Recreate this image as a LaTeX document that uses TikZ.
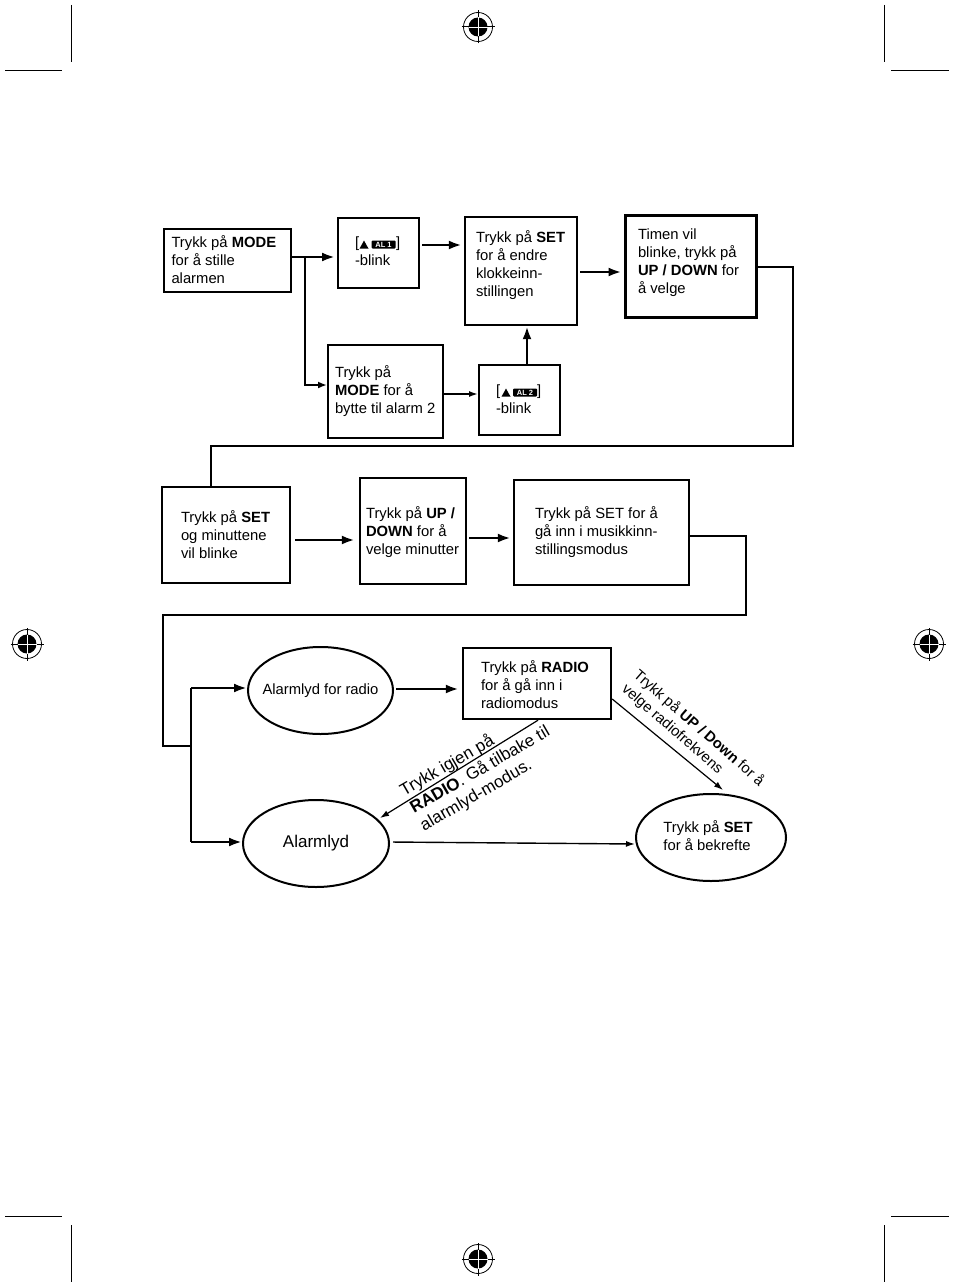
\documentclass[tikz,border=0pt]{standalone}
\usepackage{fontspec}
\setmainfont{Liberation Sans}
\usetikzlibrary{arrows.meta,shapes.geometric}
\tikzset{
  x=1pt,y=-1pt,
  every node/.style={font=\fontsize{14.8}{18}\selectfont},
  boxn/.style={draw,rectangle,line width=#1,align=left,inner ysep=0pt,anchor=center},
  boxn/.default=2pt,
  oval/.style={draw,ellipse,line width=2pt,align=left,inner sep=0pt},
  flow/.style={line width=2.8pt,shorten >=2pt,-{Latex[length=13pt,width=9pt]}},
  flowsmall/.style={line width=2pt,-{Latex[length=9pt,width=7pt]}},
  flowthin/.style={line width=1.2pt,-{Latex[length=9pt,width=6pt]}},
  route/.style={line width=2pt},
  crop/.style={line width=1pt},
  rotlabel/.style={align=left,inner sep=0pt},
  alicon/.style={fill=black,text=white,rectangle,rounded corners=1pt,inner sep=0pt,minimum width=24pt,minimum height=8pt,font=\fontsize{7.5}{7.5}\bfseries\selectfont},
}
\newcommand{\lines}[1]{\begin{tabular}[c]{@{}l@{}}#1\end{tabular}}
% name, x1, y1, x2, y2, text inset, line width, lift, text
\newcommand{\flowbox}[9]{%
  \pgfmathsetmacro{\cx}{(#2+#4)/2}\pgfmathsetmacro{\cy}{(#3+#5)/2}%
  \pgfmathsetmacro{\bw}{#4-#2}\pgfmathsetmacro{\bh}{#5-#3}%
  \pgfmathsetmacro{\tw}{\bw-2*#6}%
  \node[boxn=#7,minimum width=\bw pt,minimum height=\bh pt,inner xsep=#6pt] (#1) at (\cx,\cy) {\raisebox{#8pt}[0pt][0pt]{\makebox[\tw pt][l]{\lines{#9}}}};}
\newcommand{\regmark}[1]{%
  \fill (#1) circle (9.5pt);
  \draw[line width=0.8pt] (#1) circle (14.5pt);
  \draw[line width=1pt] ([xshift=-16.5pt]#1) -- ([xshift=16.5pt]#1);
  \draw[line width=1pt] ([yshift=-16.5pt]#1) -- ([yshift=16.5pt]#1);
  \draw[white,line width=0.9pt] ([xshift=-9.5pt]#1) -- ([xshift=9.5pt]#1);
  \draw[white,line width=0.9pt] ([yshift=-9.5pt]#1) -- ([yshift=9.5pt]#1);}
\newcommand{\bell}[2]{\fill (#1,#2) -- ++(1.5,-2.5) -- ++(3,-5.5) -- ++(3,5.5) -- ++(1.5,2.5) -- cycle;}
\begin{document}
\begin{tikzpicture}
\useasboundingbox (0,0) rectangle (954,1287);
\fill[white] (0,0) rectangle (954,1287);

% crop marks
\draw[crop] (71,5) -- (71,62);
\draw[crop] (5,71) -- (62,71);
\draw[crop] (884,5) -- (884,62);
\draw[crop] (891,71) -- (949,71);
\draw[crop] (5,1216) -- (62,1216);
\draw[crop] (71,1225) -- (71,1282);
\draw[crop] (891,1216) -- (949,1216);
\draw[crop] (884,1225) -- (884,1282);
\regmark{478,27}
\regmark{27,644}
\regmark{929,644}
\regmark{478,1259}

% boxes
\flowbox{mode}{164}{229}{291}{292}{7.5}{2pt}{-5}{Trykk på \textbf{MODE}\\for å stille\\alarmen}
\flowbox{alone}{338}{218}{419}{288}{17}{2pt}{-3}{[\hspace{37pt}]\\-blink}
\flowbox{set}{465}{217}{577}{325}{11}{2.4pt}{2}{Trykk på \textbf{SET}\\for å endre\\klokkeinn-\\stillingen}
\flowbox{hour}{625}{215}{756}{317}{13}{3pt}{0}{Timen vil\\blinke, trykk på\\\textbf{UP / DOWN} for\\å velge}
\flowbox{modetwo}{328}{345}{443}{438}{7}{2pt}{-4}{Trykk på\\\textbf{MODE} for å\\bytte til alarm 2}
\flowbox{altwo}{479}{365}{560}{435}{17}{2pt}{-4}{[\hspace{37pt}]\\-blink}
\flowbox{setmin}{162}{487}{290}{583}{19}{2pt}{-5}{Trykk på \textbf{SET}\\og minuttene\\vil blinke}
\flowbox{updown}{360}{478}{466}{584}{6}{2.4pt}{-5}{Trykk på \textbf{UP /}\\\textbf{DOWN} for å\\velge minutter}
\flowbox{music}{514}{480}{689}{585}{21}{2.4pt}{-4}{Trykk på SET for å\\gå inn i musikkinn-\\stillingsmodus}
\flowbox{radiobox}{463}{648}{611}{719}{18}{2.4pt}{-7}{Trykk på \textbf{RADIO}\\for å gå inn i\\radiomodus}

% alarm icons
\bell{359.5}{248.5}
\node[alicon] (iconone) at (383.5,244.5) {AL 1};
\bell{501.5}{396.5}
\node[alicon] (icontwo) at (525,392.5) {AL 2};

% ellipses
\node[oval,minimum width=145pt,minimum height=87pt] (radioell) at (320.5,690.5) {\raisebox{2pt}{\makebox[0pt][c]{Alarmlyd for radio}}};
\node[oval,minimum width=146pt,minimum height=87pt] (alarm) at (316,843.5) {\raisebox{-1pt}{\makebox[0pt][c]{\fontsize{17}{20}\selectfont Alarmlyd}}};
\node[oval,minimum width=150pt,minimum height=87pt] (confirm) at (711,837.5) {\raisebox{-1pt}{\makebox[0pt][c]{\hspace{-6pt}\lines{Trykk på \textbf{SET}\\for å bekrefte}}}};

% junction coordinates
\coordinate (jtop) at (305,257);
\coordinate (jlow) at (305,385);
\coordinate (jmid) at (191,746);
\coordinate (jup) at (191,688);
\coordinate (jdown) at (191,842);

% connectors
\draw[flow] (mode.east |- jtop) -- (alone.west |- jtop);
\draw[flowsmall] (jtop) -- (jlow) -- (modetwo.west |- jlow);
\draw[flow,shorten <=2pt] (alone.east |- 0,245) -- (set.west |- 0,245);
\draw[flow,shorten <=2pt] (set.east |- 0,272) -- (hour.west |- 0,272);
\draw[flowthin,line width=1.6pt] (modetwo.east |- 0,394) -- (altwo.west |- 0,394);
\draw[flow,shorten >=0pt] (altwo.north -| 527,0) -- (set.south -| 527,0);
\draw[route] (hour.east |- 0,267) -- (793,267) -- (793,446) -- (211,446) -- (setmin.north -| 211,0);
\draw[flow,shorten <=4pt,shorten >=4pt] (setmin.east |- 0,540) -- (updown.west |- 0,540);
\draw[flow,shorten <=2pt] (updown.east |- 0,538) -- (music.west |- 0,538);
\draw[route] (music.east |- 0,536) -- (746,536) -- (746,615) -- (163,615) -- (163,746) -- (jmid);
\draw[route] (jup) -- (jdown);
\draw[flow,shorten >=0pt] (jup) -- (radioell.west |- jup);
\draw[flow,shorten >=0pt] (jdown) -- (alarm.west |- jdown);
\draw[flow,shorten >=3pt,shorten <=2pt] (radioell.east |- 0,689) -- (radiobox.west |- 0,689);
\coordinate (alarmhit) at (380,818);
\coordinate (confirmhit) at (723,790);
\draw[flowthin] (radiobox.south -| 538,0) -- (alarmhit);
\draw[flowthin] (radiobox.east |- 0,699) -- (confirmhit);
\draw[flowthin,line width=1.4pt,shorten <=3pt] (alarm.east |- 0,842) -- (confirm.west |- 0,844);

% rotated labels
\node[rotlabel,rotate=30,font=\fontsize{17}{20}\selectfont] (labback) at (480,770) {Trykk igjen på\\\textbf{RADIO}. Gå tilbake til\\alarmlyd-modus.};
\node[rotlabel,rotate=-41] (labfreq) at (693,735) {Trykk på \textbf{UP / Down} for å\\velge radiofrekvens};
\end{tikzpicture}
\end{document}
